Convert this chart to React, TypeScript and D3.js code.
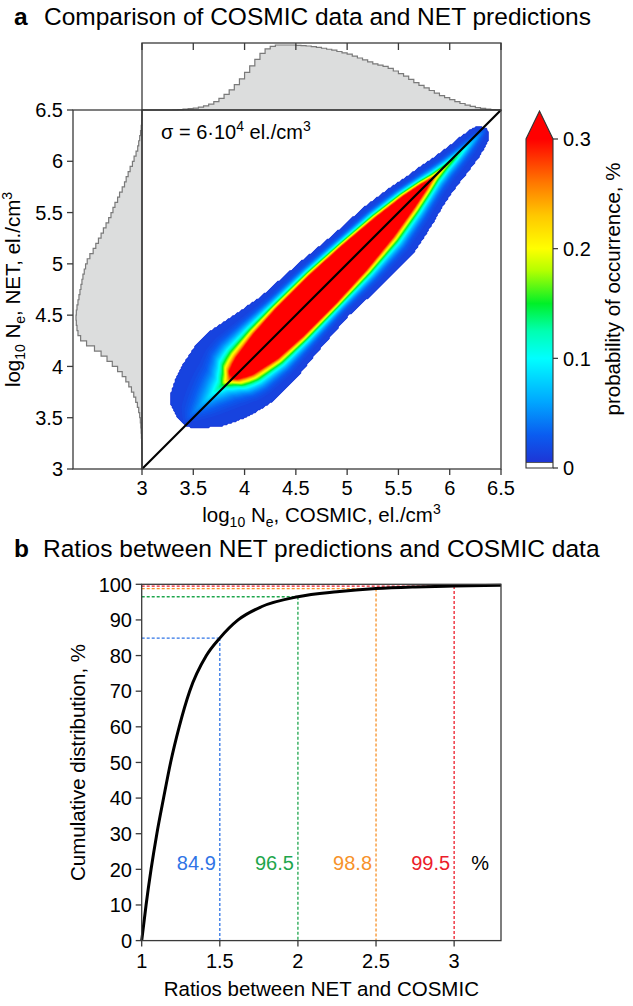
import React, { useMemo } from 'react';
import * as d3 from 'd3';

const FONT = '"Liberation Sans", Arial, Helvetica, sans-serif';

// ---------------- Panel a data ----------------
const axisTicksA = [3, 3.5, 4, 4.5, 5, 5.5, 6, 6.5];
const axisTickLabelsA = ['3', '3.5', '4', '4.5', '5', '5.5', '6', '6.5'];
const colorbarTicks = [0, 0.1, 0.2, 0.3];
const colorbarTickLabels = ['0', '0.1', '0.2', '0.3'];

// marginal histograms, bins of 0.05 starting at 3.0 (relative occurrence)
const histStart = 3.0;
const histBinWidth = 0.05;
const cosmicHist = [
  0, 0, 0, 0, 0, 0, 0.003, 0.006, 0.012, 0.02, 0.03, 0.045, 0.065, 0.09, 0.13, 0.18,
  0.24, 0.31, 0.39, 0.48, 0.58, 0.68, 0.78, 0.87, 0.94, 0.98, 1.0, 1.0, 1.0, 1.0,
  0.995, 0.99, 0.985, 0.975, 0.965, 0.95, 0.935, 0.92, 0.9, 0.88, 0.86, 0.83, 0.8,
  0.77, 0.74, 0.71, 0.69, 0.67, 0.64, 0.6, 0.56, 0.52, 0.47, 0.42, 0.38, 0.34, 0.3,
  0.26, 0.22, 0.19, 0.16, 0.13, 0.1, 0.075, 0.055, 0.038, 0.024, 0.013, 0.006, 0.002,
];
const netHist = [
  0, 0, 0.001, 0.002, 0.004, 0.006, 0.009, 0.013, 0.018, 0.025,
  0.035, 0.05, 0.07, 0.095, 0.125, 0.16, 0.2, 0.245, 0.3, 0.37,
  0.45, 0.53, 0.62, 0.72, 0.84, 0.93, 0.97, 0.985, 0.995, 1.0,
  0.995, 0.985, 0.97, 0.955, 0.94, 0.925, 0.91, 0.895, 0.875, 0.855,
  0.83, 0.79, 0.74, 0.7, 0.66, 0.62, 0.585, 0.545, 0.505, 0.47,
  0.44, 0.41, 0.37, 0.34, 0.3, 0.265, 0.24, 0.21, 0.18, 0.145,
  0.12, 0.09, 0.065, 0.05, 0.035, 0.022, 0.012, 0.005, 0.002, 0,
];

// 2D occurrence ridge along the diagonal: s = (x+y)/2, offsets d = y - x
const ridgeS = [3.42, 3.45, 3.5, 3.6, 3.7, 3.8, 3.86, 3.9, 3.95, 4.0, 4.2, 4.43, 4.76, 5.07, 5.36, 5.6, 5.75, 5.85, 5.95, 6.05, 6.15, 6.25, 6.3, 6.32, 6.34];
const ridgeEdgeUpper = [0.15, 0.33, 0.45, 0.55, 0.62, 0.66, 0.68, 0.68, 0.68, 0.68, 0.6, 0.52, 0.48, 0.42, 0.39, 0.32, 0.26, 0.23, 0.19, 0.16, 0.14, 0.11, 0.08, 0.03, -0.05];
const ridgeEdgeLower = [0.0, -0.1, -0.2, -0.36, -0.46, -0.54, -0.57, -0.59, -0.61, -0.62, -0.62, -0.57, -0.52, -0.55, -0.55, -0.45, -0.37, -0.33, -0.3, -0.28, -0.25, -0.2, -0.16, -0.12, -0.05];
const ridgeCoreUpper = [0.05, 0.05, 0.05, 0.05, 0.05, 0.04, 0.03, 0.09, 0.13, 0.16, 0.22, 0.25, 0.25, 0.22, 0.17, 0.11, 0.05, 0.0, -0.01, -0.02, -0.03, -0.035, -0.04, -0.045, -0.05];
const ridgeCoreLower = [0.05, 0.05, 0.05, 0.05, 0.05, 0.04, 0.03, -0.04, -0.1, -0.15, -0.24, -0.27, -0.27, -0.24, -0.18, -0.1, -0.04, 0.0, -0.01, -0.02, -0.03, -0.035, -0.04, -0.045, -0.05];
const ridgePeak = [0.015, 0.02, 0.035, 0.06, 0.095, 0.15, 0.26, 0.31, 0.31, 0.31, 0.31, 0.31, 0.31, 0.31, 0.31, 0.31, 0.31, 0.28, 0.2, 0.15, 0.1, 0.06, 0.04, 0.03, 0.015];

// ---------------- Panel b data ----------------
const cdfRatio = [1.0, 1.028, 1.06, 1.097, 1.14, 1.185, 1.24, 1.307, 1.414, 1.5, 1.617, 1.766, 2.0, 2.25, 2.5, 2.75, 3.0, 3.3];
const cdfPercent = [0, 10, 20, 30, 40, 50, 60, 70, 80, 84.9, 90, 93.7, 96.5, 97.9, 98.8, 99.25, 99.5, 99.75];
const ratioTicks = [1, 1.5, 2, 2.5, 3];
const ratioTickLabels = ['1', '1.5', '2', '2.5', '3'];
const percentTicks = [0, 10, 20, 30, 40, 50, 60, 70, 80, 90, 100];
const thresholdRatios = [1.5, 2, 2.5, 3];
const thresholdPercents = [84.9, 96.5, 98.8, 99.5];
const thresholdLabels = ['84.9', '96.5', '98.8', '99.5'];
const thresholdColors = ['#2f74e6', '#1ea64c', '#f7922a', '#ec1c2a'];

// colormap (jet-like, saturating at 0.3)
const cmapStops = [0.005, 0.03, 0.06, 0.1, 0.125, 0.15, 0.18, 0.2, 0.23, 0.26, 0.3];
const cmapColors = ['#1e35d5', '#0a5cf0', '#00a6ff', '#00ffff', '#00ffb0', '#00f028', '#b4ff00', '#ffff00', '#ffc800', '#ff7800', '#ff0000'];

export default function App() {
  const X0 = 142, X1 = 501, Y0 = 110, Y1 = 469;
  const xA = d3.scaleLinear().domain([3, 6.5]).range([X0, X1]);
  const yA = d3.scaleLinear().domain([3, 6.5]).range([Y1, Y0]);
  const topBoxTop = 43;
  const yTop = d3.scaleLinear().domain([0, 1]).range([Y0, 45]);
  const leftBoxLeft = 73;
  const xLeft = d3.scaleLinear().domain([0, 1]).range([X0, 76]);

  const cmap = d3.scaleLinear<string>().domain(cmapStops).range(cmapColors).interpolate(d3.interpolateRgb).clamp(true);

  const topPts = cosmicHist.flatMap((v, i) => [[histStart + i * histBinWidth, v], [histStart + (i + 1) * histBinWidth, v]]);
  const topArea = d3.area<number[]>().x(d => xA(d[0])).y0(Y0).y1(d => yTop(d[1]))(topPts) || '';
  const topLine = d3.line<number[]>().x(d => xA(d[0])).y(d => yTop(d[1]))(topPts) || '';
  const leftPts = netHist.flatMap((v, i) => [[histStart + i * histBinWidth, v], [histStart + (i + 1) * histBinWidth, v]]);
  const leftArea = d3.area<number[]>().y(d => yA(d[0])).x0(X0).x1(d => xLeft(d[1]))(leftPts) || '';
  const leftLine = d3.line<number[]>().x(d => xLeft(d[1])).y(d => yA(d[0]))(leftPts) || '';

  const contours = useMemo(() => {
    const step = 1.5;
    const nx = Math.ceil((X1 - X0) / step);
    const ny = Math.ceil((Y1 - Y0) / step);
    const mk = (arr: number[]) => d3.scaleLinear().domain(ridgeS).range(arr).clamp(true);
    const eU = mk(ridgeEdgeUpper), eL = mk(ridgeEdgeLower), cU = mk(ridgeCoreUpper), cL = mk(ridgeCoreLower), pk = mk(ridgePeak);
    const sMin = ridgeS[0], sMax = ridgeS[ridgeS.length - 1];
    const floor = 0.012;
    const vals = new Array(nx * ny).fill(0);
    for (let j = 0; j < ny; j++) {
      const y = yA.invert(Y0 + (j + 0.5) * step);
      for (let i = 0; i < nx; i++) {
        const x = xA.invert(X0 + (i + 0.5) * step);
        const s = (x + y) / 2, d = y - x;
        if (s < sMin || s > sMax) continue;
        const eu = eU(s), el = eL(s), ru = cU(s), rl = cL(s), A = pk(s);
        if (d > eu || d < el) continue;
        let t = 0;
        if (d > ru) t = eu - ru > 1e-6 ? (d - ru) / (eu - ru) : 1;
        else if (d < rl) t = rl - el > 1e-6 ? (rl - d) / (rl - el) : 1;
        vals[j * nx + i] = floor + Math.max(A - floor, 0) * Math.pow(1 - Math.min(t, 1), 3);
      }
    }
    const thresholds = d3.range(0.004, 0.3001, 0.004);
    const cs = d3.contours().size([nx, ny]).thresholds(thresholds)(vals);
    const path = d3.geoPath(d3.geoIdentity().scale(step).translate([X0, Y0]) as any);
    return cs.map(c => ({ d: path(c as any) || '', fill: cmap(Math.min(c.value + 0.002, 0.3)) }));
  }, []);

  // colorbar
  const cbX0 = 526, cbX1 = 553;
  const yCb = d3.scaleLinear().domain([0, 0.3]).range([468, 139]);
  const cbTip = 111;

  // panel b
  const BX0 = 141.7, BX1 = 501, BY0 = 584.3, BY1 = 940.6;
  const xB = d3.scaleLinear().domain([1, 3.3]).range([BX0, BX1]);
  const yB = d3.scaleLinear().domain([0, 100]).range([BY1, BY0]);
  const cdfPath = d3.line<number>().x(i => xB(cdfRatio[i])).y(i => yB(cdfPercent[i])).curve(d3.curveMonotoneX)(cdfRatio.map((_, i) => i)) || '';

  const frame = '#3a3a3a';
  const fs = 20;

  return (
    <svg width={633} height={1006} style={{ position: 'absolute', left: 0, top: 0, background: '#fff' }} fontFamily={FONT}>
      <defs>
        <linearGradient id="cbgrad" x1="0" y1="1" x2="0" y2="0">
          {cmapStops.map((v, i) => (
            <stop key={i} offset={(v - 0.005) / (0.3 - 0.005)} stopColor={cmapColors[i]} />
          ))}
        </linearGradient>
      </defs>

      {/* titles */}
      <text x={14} y={25} fontSize={24.5} fontWeight="bold">a</text>
      <text x={44} y={25} fontSize={24.5}>Comparison of COSMIC data and NET predictions</text>
      <text x={14} y={557} fontSize={24.5} fontWeight="bold">b</text>
      <text x={43} y={557} fontSize={24.5}>Ratios between NET predictions and COSMIC data</text>

      {/* marginal histograms */}
      <path d={topArea} fill="#dcdddd" />
      <path d={topLine} fill="none" stroke="#7a7a7a" strokeWidth={1.2} />
      <path d={leftArea} fill="#dcdddd" />
      <path d={leftLine} fill="none" stroke="#7a7a7a" strokeWidth={1.2} />

      {/* density */}
      <g>
        {contours.map((c, i) => <path key={i} d={c.d} fill={c.fill} stroke="none" />)}
      </g>
      <line x1={xA(3)} y1={yA(3)} x2={xA(6.5)} y2={yA(6.5)} stroke="#000" strokeWidth={2.2} />

      {/* frames */}
      <rect x={X0} y={topBoxTop} width={X1 - X0} height={Y0 - topBoxTop} fill="none" stroke={frame} strokeWidth={1.3} />
      <rect x={leftBoxLeft} y={Y0} width={X0 - leftBoxLeft} height={Y1 - Y0} fill="none" stroke={frame} strokeWidth={1.3} />
      <rect x={X0} y={Y0} width={X1 - X0} height={Y1 - Y0} fill="none" stroke={frame} strokeWidth={1.3} />

      {/* top box inward ticks */}
      {axisTicksA.map((t, i) => (
        <line key={'tt' + i} x1={xA(t)} x2={xA(t)} y1={topBoxTop} y2={topBoxTop + 7} stroke={frame} strokeWidth={1.3} />
      ))}
      {/* bottom axis */}
      {axisTicksA.map((t, i) => (
        <g key={'bx' + i}>
          <line x1={xA(t)} x2={xA(t)} y1={Y1} y2={Y1 + 6} stroke={frame} strokeWidth={1.3} />
          <text x={xA(t)} y={495} fontSize={fs} textAnchor="middle">{axisTickLabelsA[i]}</text>
        </g>
      ))}
      {/* left axis */}
      {axisTicksA.map((t, i) => (
        <g key={'ly' + i}>
          <line x1={leftBoxLeft - 6} x2={leftBoxLeft} y1={yA(t)} y2={yA(t)} stroke={frame} strokeWidth={1.3} />
          <text x={63} y={yA(t)} dy="0.36em" fontSize={fs} textAnchor="end">{axisTickLabelsA[i]}</text>
        </g>
      ))}

      <text x={(X0 + X1) / 2} y={522} fontSize={20.5} textAnchor="middle">
        <tspan>log</tspan><tspan fontSize={14} dy={5}>10</tspan><tspan dy={-5}> N</tspan><tspan fontSize={14} dy={5}>e</tspan><tspan dy={-5}>, COSMIC, el./cm</tspan><tspan fontSize={14} dy={-8}>3</tspan>
      </text>
      <text transform={`translate(20,${(Y0 + Y1) / 2}) rotate(-90)`} fontSize={20.5} textAnchor="middle">
        <tspan>log</tspan><tspan fontSize={14} dy={5}>10</tspan><tspan dy={-5}> N</tspan><tspan fontSize={14} dy={5}>e</tspan><tspan dy={-5}>, NET, el./cm</tspan><tspan fontSize={14} dy={-8}>3</tspan>
      </text>

      <text x={161} y={139} fontSize={fs}>
        <tspan>σ = 6·10</tspan><tspan fontSize={14} dy={-8}>4</tspan><tspan dy={8}> el./cm</tspan><tspan fontSize={14} dy={-8}>3</tspan>
      </text>

      {/* colorbar */}
      <rect x={cbX0} y={yCb(0.3)} width={cbX1 - cbX0} height={yCb(0.005) - yCb(0.3)} fill="url(#cbgrad)" />
      <rect x={cbX0} y={yCb(0.005)} width={cbX1 - cbX0} height={yCb(0) - yCb(0.005)} fill="#fff" />
      <path d={`M${cbX0},${yCb(0.3)}L${(cbX0 + cbX1) / 2},${cbTip}L${cbX1},${yCb(0.3)}Z`} fill="#ff0000" />
      <path d={`M${cbX0},${yCb(0)}L${cbX0},${yCb(0.3)}L${(cbX0 + cbX1) / 2},${cbTip}L${cbX1},${yCb(0.3)}L${cbX1},${yCb(0)}Z`} fill="none" stroke="#333" strokeWidth={1.1} />
      <line x1={cbX0} x2={cbX1} y1={yCb(0.005)} y2={yCb(0.005)} stroke="#333" strokeWidth={0.8} />
      {colorbarTicks.map((t, i) => (
        <g key={'cb' + i}>
          <line x1={cbX1} x2={cbX1 + 5} y1={yCb(t)} y2={yCb(t)} stroke="#333" strokeWidth={1.2} />
          <text x={563} y={yCb(t)} dy="0.36em" fontSize={fs}>{colorbarTickLabels[i]}</text>
        </g>
      ))}
      <text transform={`translate(620,289) rotate(-90)`} fontSize={20.5} textAnchor="middle">probability of occurrence, %</text>

      {/* panel b */}
      {thresholdRatios.map((r, i) => (
        <g key={'th' + i} stroke={thresholdColors[i]} strokeWidth={1.3} strokeDasharray="3,2" fill="none">
          <line x1={BX0} x2={xB(r)} y1={yB(thresholdPercents[i])} y2={yB(thresholdPercents[i])} />
          <line x1={xB(r)} x2={xB(r)} y1={yB(thresholdPercents[i])} y2={BY1} />
        </g>
      ))}
      <path d={cdfPath} fill="none" stroke="#000" strokeWidth={3} />
      <rect x={BX0} y={BY0} width={BX1 - BX0} height={BY1 - BY0} fill="none" stroke={frame} strokeWidth={1.3} />
      {thresholdRatios.map((r, i) => (
        <text key={'tl' + i} x={xB(r) - 4} y={870} fontSize={fs} textAnchor="end" fill={thresholdColors[i]}>{thresholdLabels[i]}</text>
      ))}
      <text x={xB(3) + 17} y={870} fontSize={fs}>%</text>

      {percentTicks.map((t, i) => (
        <g key={'py' + i}>
          <line x1={BX0 - 6} x2={BX0} y1={yB(t)} y2={yB(t)} stroke={frame} strokeWidth={1.3} />
          <text x={132} y={yB(t)} dy="0.36em" fontSize={fs} textAnchor="end">{String(t)}</text>
        </g>
      ))}
      {ratioTicks.map((t, i) => (
        <g key={'rx' + i}>
          <line x1={xB(t)} x2={xB(t)} y1={BY1} y2={BY1 + 6} stroke={frame} strokeWidth={1.3} />
          <text x={xB(t)} y={968} fontSize={fs} textAnchor="middle">{ratioTickLabels[i]}</text>
        </g>
      ))}
      <text x={(BX0 + BX1) / 2} y={996} fontSize={20.5} textAnchor="middle">Ratios between NET and COSMIC</text>
      <text transform={`translate(85,${(BY0 + BY1) / 2}) rotate(-90)`} fontSize={20.5} textAnchor="middle">Cumulative distribution, %</text>
    </svg>
  );
}
